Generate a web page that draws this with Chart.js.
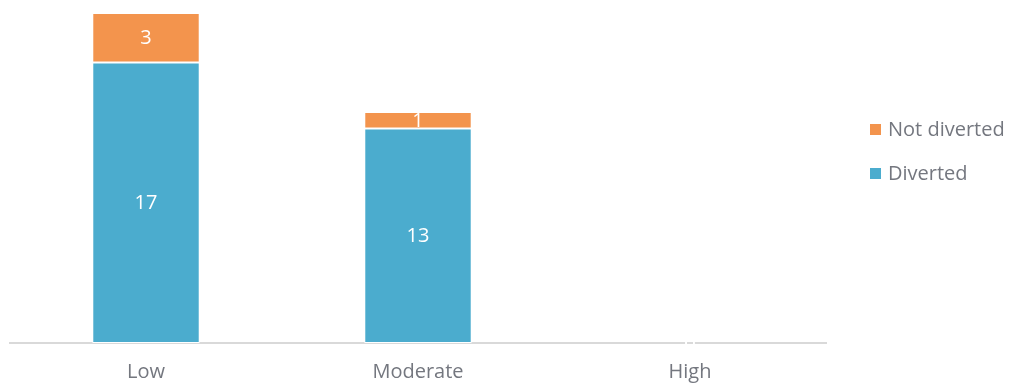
<!DOCTYPE html>
<html>
<head>
<meta charset="utf-8">
<script src="https://cdn.jsdelivr.net/npm/chart.js"></script>
<style>
  html, body { margin: 0; padding: 0; background: #fff; }
  #wrap { width: 1013px; height: 385px; }
</style>
</head>
<body>
<div id="wrap"><canvas id="divChart" width="1013" height="385"></canvas></div>
<script>
// risk levels and case counts
const categories = ['Low', 'Moderate', 'High'];
const diverted = [17, 13, 0];
const notDiverted = [3, 1, 0];
const yMax = 20;

const textGrey = '#74777f';
const fontFamily = '"Open Sans", "Liberation Sans", sans-serif';

// writes each segment's value in the middle of the bar
const valueLabels = {
  id: 'valueLabels',
  afterDatasetsDraw(chart) {
    const ctx = chart.ctx;
    ctx.save();
    ctx.font = '20px ' + fontFamily;
    ctx.fillStyle = '#fff';
    ctx.textAlign = 'center';
    ctx.textBaseline = 'middle';
    chart.data.datasets.forEach((ds, i) => {
      const meta = chart.getDatasetMeta(i);
      meta.data.forEach((bar, j) => {
        const p = bar.getProps(['x', 'y', 'base'], true);
        ctx.fillText(ds.data[j], p.x, (p.y + p.base) / 2 + 1);
      });
    });
    ctx.restore();
  }
};

// legend to the right of the plot, top item = last dataset
const sideLegend = {
  id: 'sideLegend',
  afterDraw(chart) {
    const ctx = chart.ctx;
    const area = chart.chartArea;
    const x = area.right + 44;
    let y = area.top + 117;
    ctx.save();
    ctx.font = '20px ' + fontFamily;
    ctx.textBaseline = 'middle';
    ctx.textAlign = 'left';
    chart.data.datasets.slice().reverse().forEach(ds => {
      ctx.fillStyle = ds.backgroundColor;
      ctx.fillRect(x, y - 6, 11, 11);
      ctx.fillStyle = textGrey;
      ctx.fillText(ds.label, x + 18, y);
      y += 44;
    });
    ctx.restore();
  }
};

const ctx = document.getElementById('divChart').getContext('2d');
const chart = new Chart(ctx, {
  type: 'bar',
  data: {
    labels: categories,
    datasets: [
      {
        label: 'Diverted',
        data: diverted,
        backgroundColor: '#4BACCE',
        borderColor: '#fff',
        borderWidth: 1,
        borderSkipped: false
      },
      {
        label: 'Not diverted',
        data: notDiverted,
        backgroundColor: '#F3944D',
        borderColor: '#fff',
        borderWidth: 1,
        borderSkipped: false
      }
    ]
  },
  options: {
    responsive: false,
    animation: false,
    layout: { padding: { left: 10, right: 187, top: 13, bottom: 0 } },
    datasets: { bar: { categoryPercentage: 1, barPercentage: 0.395 } },
    plugins: {
      legend: { display: false },
      tooltip: { enabled: false }
    },
    scales: {
      x: {
        stacked: true,
        grid: { display: false, drawTicks: false },
        border: { display: true, color: '#D9D9D9', width: 2 },
        ticks: { color: textGrey, padding: 17, font: { size: 20, family: fontFamily } },
        afterFit(scale) { scale.height = 42; }
      },
      y: {
        stacked: true,
        display: false,
        min: 0,
        max: yMax
      }
    }
  },
  plugins: [valueLabels, sideLegend]
});
</script>
</body>
</html>
